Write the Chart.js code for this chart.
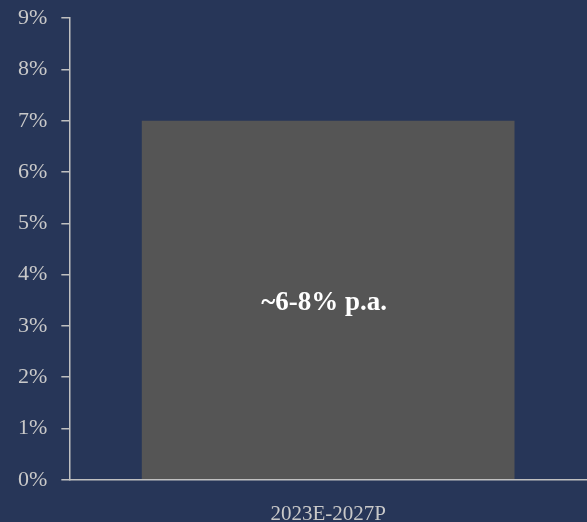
<!DOCTYPE html>
<html>
<head>
<meta charset="utf-8">
<script src="https://cdn.jsdelivr.net/npm/chart.js@4"></script>
<style>
  html, body { margin: 0; padding: 0; background: #273658; overflow: hidden; }
  #box { width: 587px; height: 531px; margin-top: -9px; }
</style>
</head>
<body>
<div id="box"><canvas id="grafico"></canvas></div>
<script>
const categorias = ['2023E-2027P'];
const valores = [7];
const rotulos = ['~6-8% p.a.'];

const corTexto = '#c9c9c9';
const fonte = 'Liberation Serif';

// escreve o rótulo no meio da barra
const rotuloBarra = {
  id: 'rotuloBarra',
  afterDatasetsDraw(chart) {
    const ctx = chart.ctx;
    chart.getDatasetMeta(0).data.forEach((barra, i) => {
      const meio = (barra.y + barra.base) / 2;
      ctx.save();
      ctx.fillStyle = '#ffffff';
      ctx.font = 'bold 27px "' + fonte + '"';
      ctx.textAlign = 'center';
      ctx.textBaseline = 'middle';
      ctx.fillText(rotulos[i], barra.x - 4, meio + 3);
      ctx.restore();
    });
  }
};

new Chart(grafico, {
  type: 'bar',
  data: {
    labels: categorias,
    datasets: [{
      data: valores,
      backgroundColor: '#555555',
      borderWidth: 0,
      categoryPercentage: 1,
      barPercentage: 0.72
    }]
  },
  options: {
    responsive: true,
    maintainAspectRatio: false,
    animation: false,
    layout: { padding: { top: 0, left: 4, right: 0, bottom: -27 } },
    plugins: { legend: { display: false }, tooltip: { enabled: false } },
    scales: {
      x: {
        grid: { display: false, drawTicks: false },
        border: { display: true, color: '#c0c0c0', width: 1.5 },
        ticks: { color: corTexto, font: { family: fonte, size: 21 }, padding: 22 }
      },
      y: {
        min: 0,
        max: 9,
        grid: { drawOnChartArea: false, color: '#c0c0c0', tickLength: 8, lineWidth: 1.5 },
        border: { display: true, color: '#c0c0c0', width: 1.5 },
        ticks: {
          stepSize: 1,
          color: corTexto,
          font: { family: fonte, size: 22 },
          padding: 14,
          callback: v => v + '%'
        }
      }
    }
  },
  plugins: [rotuloBarra]
});
</script>
</body>
</html>
